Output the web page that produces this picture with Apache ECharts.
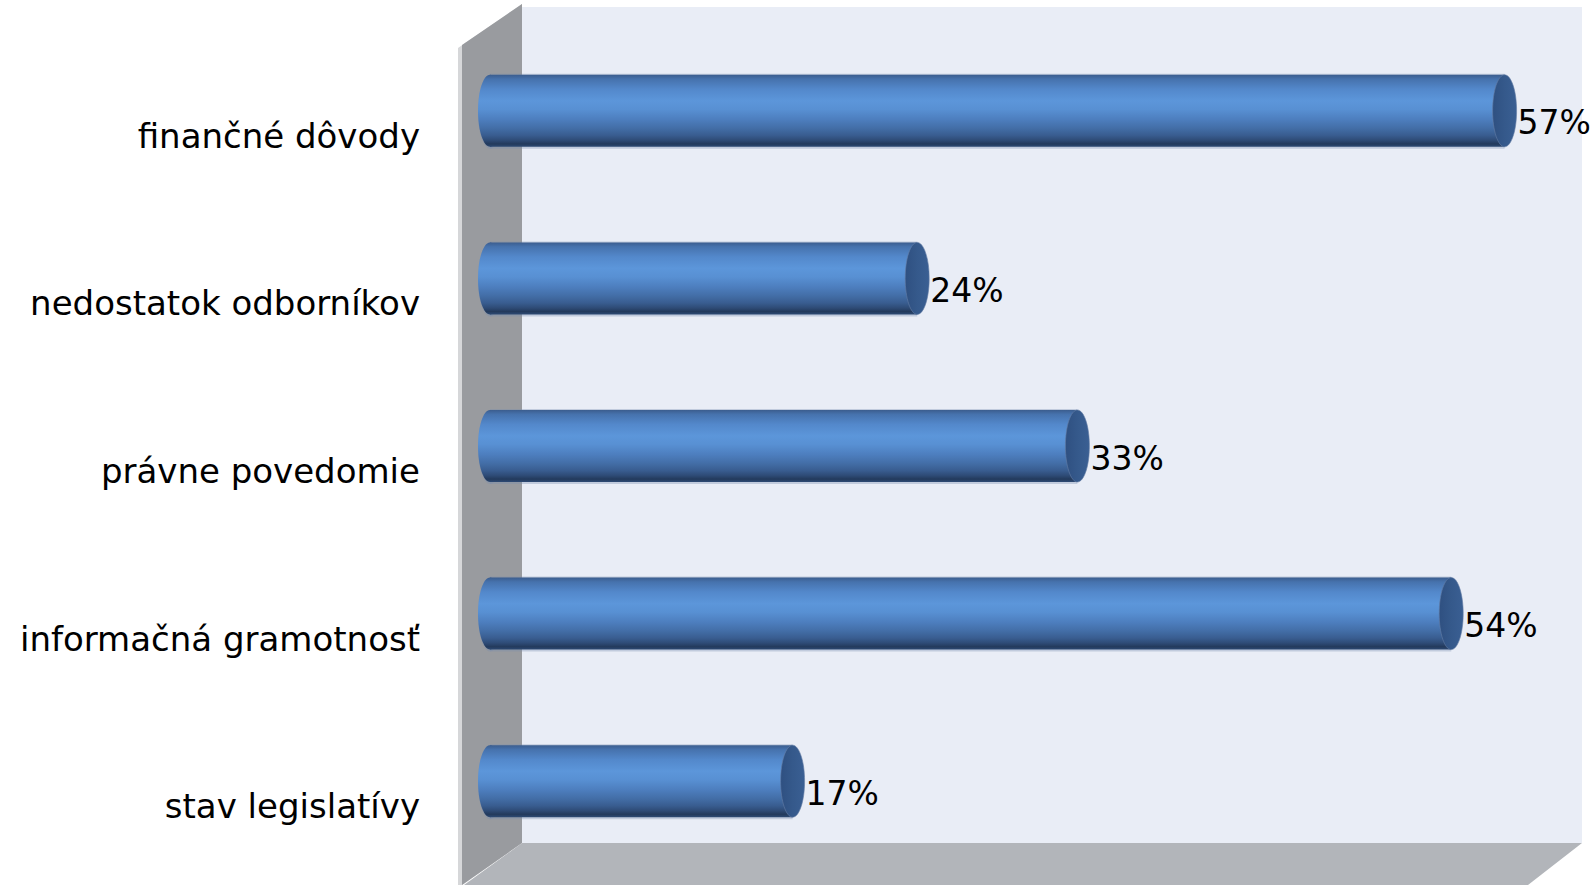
<!DOCTYPE html>
<html>
<head>
<meta charset="utf-8">
<script src="https://cdn.jsdelivr.net/npm/echarts@6/dist/echarts.min.js"></script>
<style>html,body{margin:0;padding:0;background:#fff;}#c{width:1593px;height:885px;}</style>
</head>
<body>
<div id="c"></div>
<script>
const categories = ['finančné dôvody', 'nedostatok odborníkov', 'právne povedomie', 'informačná gramotnosť', 'stav legislatívy'];
const values = [57, 24, 33, 54, 17];
const valueLabels = ['57%', '24%', '33%', '54%', '17%'];

const FONT = '"DejaVu Sans", sans-serif';
const chart = echarts.init(document.getElementById('c'), null, {renderer: 'svg'});

function bodyGrad() {
  return new echarts.graphic.LinearGradient(0, 0, 0, 1, [
    {offset: 0, color: '#3b5d8e'},
    {offset: 0.06, color: '#4672ad'},
    {offset: 0.2, color: '#5388cb'},
    {offset: 0.36, color: '#5c96da'},
    {offset: 0.48, color: '#5890d3'},
    {offset: 0.62, color: '#4d7ebe'},
    {offset: 0.74, color: '#436ea7'},
    {offset: 0.84, color: '#395d90'},
    {offset: 0.91, color: '#2e4b76'},
    {offset: 0.96, color: '#233a5c'},
    {offset: 1, color: '#2d4a74'}
  ]);
}
function capGrad() {
  return new echarts.graphic.LinearGradient(0, 0, 1, 0, [
    {offset: 0, color: '#2f5081'},
    {offset: 0.5, color: '#35598b'},
    {offset: 1, color: '#3a5f93'}
  ]);
}

function renderItem(params, api) {
  const v = api.value(0);
  const ci = api.value(1);
  const p0 = api.coord([0, ci]);
  const p1 = api.coord([v, ci]);
  const h = 72, ry = h / 2, rx = 12;
  const cy = p0[1];
  return {
    type: 'group',
    children: [
      {type: 'ellipse', shape: {cx: p0[0], cy: cy + 1, rx: rx, ry: ry + 1}, style: {fill: 'rgba(120,140,175,0.35)'}},
      {type: 'rect', shape: {x: p0[0], y: cy - ry - 1, width: p1[0] - p0[0], height: h + 3}, style: {fill: 'rgba(120,140,175,0.35)'}},
      {type: 'ellipse', shape: {cx: p0[0], cy: cy, rx: rx, ry: ry}, style: {fill: bodyGrad()}},
      {type: 'rect', shape: {x: p0[0], y: cy - ry, width: p1[0] - p0[0], height: h}, style: {fill: bodyGrad()}},
      {type: 'ellipse', shape: {cx: p1[0], cy: cy, rx: rx, ry: ry}, style: {fill: capGrad(), stroke: 'rgba(100,125,165,0.6)', lineWidth: 1}},
      {type: 'text', style: {text: valueLabels[params.dataIndex], x: p1[0] + rx + 1, y: cy + 12, align: 'left', verticalAlign: 'middle', fill: '#000', font: '33px ' + FONT}}
    ]
  };
}

const option = {
  animation: false,
  backgroundColor: '#ffffff',
  graphic: [
    {type: 'polygon', z: 0, silent: true, shape: {points: [[522, 7], [1582, 7], [1582, 843], [522, 843]]}, style: {fill: '#e9edf6'}},
    {type: 'polygon', z: 0, silent: true, shape: {points: [[458, 48], [522, 4], [522, 843], [458, 888]]}, style: {fill: '#d6d7d9'}},
    {type: 'polygon', z: 0, silent: true, shape: {points: [[462, 45], [522, 4], [522, 843], [462, 885]]}, style: {fill: '#999b9f'}},
    {type: 'polygon', z: 0, silent: true, shape: {points: [[522, 843], [1582, 843], [1528, 885], [464, 885]]}, style: {fill: '#b2b5ba'}}
  ],
  grid: {left: 490, top: 27, width: 1068, height: 838, containLabel: false},
  xAxis: {type: 'value', min: 0, max: 60, show: false, splitLine: {show: false}},
  yAxis: {
    type: 'category', data: categories, inverse: true,
    axisLine: {show: false}, axisTick: {show: false}, splitLine: {show: false},
    axisLabel: {
      margin: 70, color: '#000', fontFamily: FONT, fontSize: 34, lineHeight: 50,
      verticalAlign: 'middle',
      formatter: function (v) { return '\n' + v; }
    }
  },
  series: [{
    type: 'custom', z: 10,
    renderItem: renderItem,
    encode: {x: 0, y: 1},
    data: values.map((v, i) => [v, i])
  }]
};
chart.setOption(option);
</script>
</body>
</html>
